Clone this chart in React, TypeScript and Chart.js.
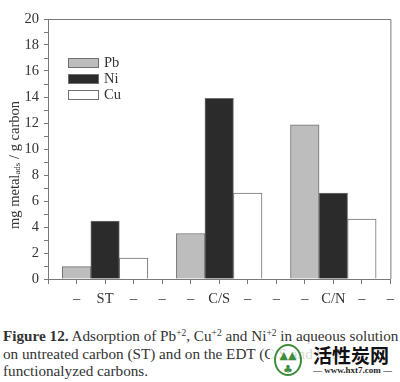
import React, { useEffect, useRef } from "react";
import { Chart, registerables } from "chart.js";

Chart.register(...registerables);

const groups = ["ST", "C/S", "C/N"];
const seriesNames = ["Pb", "Ni", "Cu"];
const pbValues = [0.95, 3.5, 11.85];
const niValues = [4.45, 13.9, 6.6];
const cuValues = [1.6, 6.6, 4.6];
const xTickLabels = ["", "–", "ST", "–", "–", "–", "C/S", "–", "–", "–", "C/N", "–", "–"];
const yMin = 0;
const yMax = 20;

const fills = ["#bdbdbd", "#2b2b2b", "#ffffff"];
const edge = "#707070";
const axisColor = "#7a7a7a";
const textColor = "#333333";
const serif = "'Liberation Serif', 'DejaVu Serif', serif";

const framePlugin = {
  id: "frame",
  afterDatasetsDraw(chart: any) {
    const { ctx, chartArea } = chart;
    ctx.save();
    ctx.strokeStyle = axisColor;
    ctx.lineWidth = 1;
    ctx.beginPath();
    ctx.moveTo(chartArea.left, chartArea.top + 0.5);
    ctx.lineTo(chartArea.right + 0.5, chartArea.top + 0.5);
    ctx.lineTo(chartArea.right + 0.5, chartArea.bottom);
    ctx.stroke();
    ctx.restore();
  },
};

const yTitlePlugin = {
  id: "yTitle",
  afterDraw(chart: any) {
    const { ctx } = chart;
    const parts = [
      { t: "mg metal", size: 14.5, dy: 0 },
      { t: "ads", size: 9, dy: 3 },
      { t: " / g carbon", size: 14.5, dy: 0 },
    ];
    ctx.save();
    let total = 0;
    const widths = parts.map((p) => {
      ctx.font = `${p.size}px ${serif}`;
      const w = ctx.measureText(p.t).width;
      total += w;
      return w;
    });
    ctx.translate(15, 165);
    ctx.rotate(-Math.PI / 2);
    ctx.fillStyle = textColor;
    ctx.textBaseline = "middle";
    let x = -total / 2;
    parts.forEach((p, i) => {
      ctx.font = `${p.size}px ${serif}`;
      ctx.fillText(p.t, x, p.dy);
      x += widths[i];
    });
    ctx.restore();
  },
};

const legendPlugin = {
  id: "customLegend",
  afterDraw(chart: any) {
    const { ctx, chartArea } = chart;
    ctx.save();
    const bx = chartArea.left + 20;
    const by = chartArea.top + 39;
    chart.data.datasets.forEach((ds: any, i: number) => {
      const y = by + i * 16;
      ctx.fillStyle = ds.backgroundColor;
      ctx.fillRect(bx, y, 30, 9);
      ctx.strokeStyle = edge;
      ctx.lineWidth = 1;
      ctx.strokeRect(bx + 0.5, y + 0.5, 30, 9);
      ctx.fillStyle = textColor;
      ctx.font = `14.5px ${serif}`;
      ctx.textBaseline = "middle";
      ctx.fillText(ds.label, bx + 36, y + 5);
    });
    ctx.restore();
  },
};

function ChartCanvas() {
  const ref = useRef<HTMLCanvasElement | null>(null);
  useEffect(() => {
    if (!ref.current) return;
    const seriesValues = [pbValues, niValues, cuValues];
    const datasets = seriesNames.map((name, s) => ({
      label: name,
      data: seriesValues[s].map((v, g) => ({ x: g * (seriesNames.length + 1) + s + 1, y: v })),
      backgroundColor: fills[s],
      borderColor: edge,
      borderWidth: 1,
      grouped: false,
      barPercentage: 1,
      categoryPercentage: 1,
    }));
    const chart = new Chart(ref.current, {
      type: "bar",
      data: { datasets },
      options: {
        animation: false,
        responsive: false,
        devicePixelRatio: 1,
        layout: { padding: { left: 0, top: 19, right: 9, bottom: 0 } },
        plugins: { legend: { display: false }, tooltip: { enabled: false } },
        scales: {
          x: {
            type: "linear",
            min: 0,
            max: xTickLabels.length - 1,
            offset: false,
            afterFit: (scale: any) => {
              scale.height = 36;
            },
            border: { color: axisColor, width: 1 },
            grid: {
              offset: false,
              drawOnChartArea: false,
              drawTicks: true,
              tickLength: 5,
              color: axisColor,
            },
            ticks: {
              stepSize: 1,
              autoSkip: false,
              maxRotation: 0,
              padding: 6,
              color: textColor,
              font: { family: serif, size: 14.5 },
              callback: (v: any) => xTickLabels[v] ?? "",
            },
          },
          y: {
            min: yMin,
            max: yMax,
            afterFit: (scale: any) => {
              scale.width = 48;
            },
            border: { color: axisColor, width: 1 },
            grid: {
              drawOnChartArea: false,
              drawTicks: true,
              tickLength: 4,
              color: axisColor,
            },
            ticks: {
              stepSize: 1,
              autoSkip: false,
              padding: 5,
              color: textColor,
              font: { family: serif, size: 14.5 },
              callback: (v: any) => (Number(v) % 2 === 0 ? String(v) : ""),
            },
          },
        },
      },
      plugins: [framePlugin, yTitlePlugin, legendPlugin],
    });
    return () => chart.destroy();
  }, []);
  return <canvas ref={ref} width={400} height={315} style={{ display: "block" }} />;
}

const supStyle: React.CSSProperties = {
  fontSize: 9.5,
  position: "relative",
  top: -5,
  lineHeight: 0,
};

export default function App() {
  return (
    <div
      style={{
        position: "absolute",
        left: 0,
        top: 0,
        width: 400,
        height: 382,
        background: "#ffffff",
        overflow: "hidden",
      }}
    >
      <ChartCanvas />
      <div
        style={{
          position: "absolute",
          left: 3,
          top: 327,
          width: 400,
          fontFamily: serif,
          fontSize: 15.2,
          lineHeight: "17.5px",
          color: "#333",
          whiteSpace: "nowrap",
        }}
      >
        <b>Figure 12.</b> Adsorption of Pb<span style={supStyle}>+2</span>, Cu
        <span style={supStyle}>+2</span> and Ni<span style={supStyle}>+2</span> in aqueous solution
        <br />
        on untreated carbon ({groups[0]}) and on the EDT ({groups[1]} and {groups[2]})
        <br />
        functionalyzed carbons.
      </div>
      <div
        style={{
          position: "absolute",
          left: 270,
          top: 342,
          width: 130,
          height: 40,
          background: "rgba(255,255,255,0.8)",
        }}
      >
        <div
          style={{
            position: "absolute",
            left: 4,
            top: 2,
            width: 28,
            height: 32,
            borderRadius: "50%",
            border: "2px solid #3c8d3c",
            color: "#3c8d3c",
            fontFamily: "'DejaVu Sans', sans-serif",
            fontSize: 11,
            lineHeight: "14px",
            textAlign: "center",
            paddingTop: 3,
            boxSizing: "border-box",
          }}
        >
          ▲▲
          <br />
          ♣
        </div>
        <div
          style={{
            position: "absolute",
            left: 43,
            top: 3,
            fontFamily: "'Noto Sans CJK SC', sans-serif",
            fontWeight: 700,
            fontSize: 19,
            lineHeight: "19px",
            color: "#111",
            whiteSpace: "nowrap",
          }}
        >
          活性炭网
        </div>
        <div
          style={{
            position: "absolute",
            left: 43,
            top: 23,
            fontFamily: serif,
            fontWeight: 700,
            fontSize: 9,
            lineHeight: "10px",
            color: "#222",
            whiteSpace: "nowrap",
          }}
        >
          — www.hxt7.com —
        </div>
      </div>
    </div>
  );
}
